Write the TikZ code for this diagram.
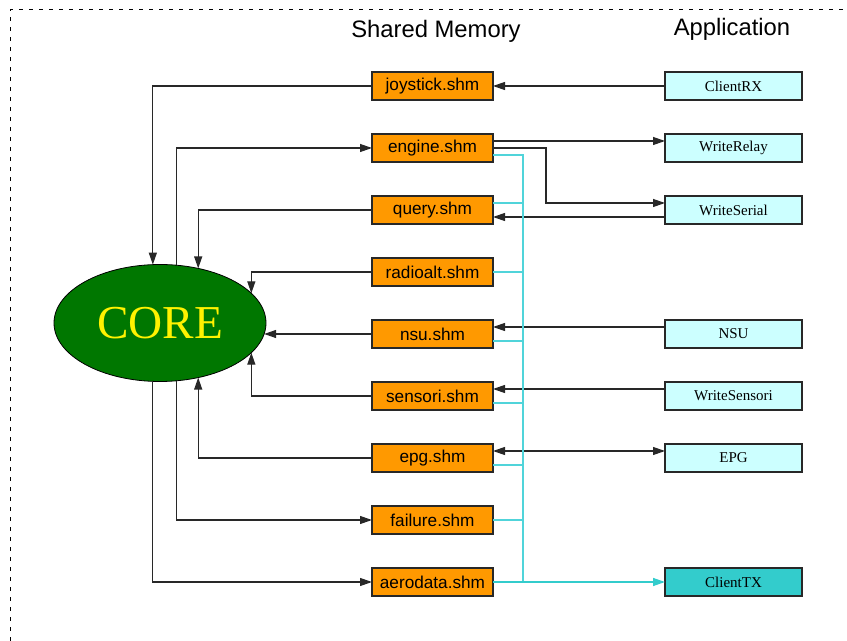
\documentclass[tikz,border=0pt]{standalone}
\usepackage{fontspec}
\setmainfont{Liberation Serif}
\setsansfont{Liberation Sans}
\usepackage{xcolor}
\usetikzlibrary{shapes.geometric,arrows.meta,positioning}

\definecolor{shmorange}{RGB}{255,153,0}
\definecolor{applight}{RGB}{204,255,255}
\definecolor{appdark}{RGB}{51,204,204}
\definecolor{coregreen}{RGB}{0,119,0}
\definecolor{buscyan}{RGB}{80,212,218}
\definecolor{linegray}{RGB}{40,40,40}

\begin{document}
\begin{tikzpicture}[x=0.5pt, y=-0.5pt, node distance=17pt and 86pt]
    \tikzstyle{shm} = [rectangle, draw=linegray, line width=0.7pt, fill=shmorange, minimum width=60.5pt, minimum height=14pt, inner sep=1pt, outer sep=0pt, font=\sffamily\fontsize{8.6}{10}\selectfont]
    \tikzstyle{app} = [rectangle, draw=linegray, line width=0.7pt, fill=applight, minimum width=68.5pt, minimum height=14pt, inner sep=1pt, outer sep=0pt, font=\rmfamily\fontsize{7.5}{9}\selectfont]
    \tikzstyle{core} = [ellipse, draw=black, line width=0.4pt, fill=coregreen, text=yellow, minimum width=106pt, minimum height=58.5pt, inner sep=0pt, outer sep=0pt, font=\rmfamily\fontsize{23.6}{26}\selectfont]
    \tikzstyle{header} = [font=\sffamily\fontsize{11.9}{14}\selectfont]
    \tikzstyle{arrow} = [draw=linegray, line width=0.6pt, -{Triangle[length=6pt,width=4pt]}]
    \tikzstyle{busline} = [draw=buscyan, line width=0.7pt]

    \useasboundingbox (0,0) rectangle (847,641);
    \draw[line width=0.5pt, dash pattern=on 2pt off 3pt] (10,641) -- (10,10) -- (847,10);

    \node [header] (shmhead) at (436,31) {Shared Memory};
    \node [header] (apphead) at (732,29) {Application};

    % shared memory column
    \node [shm] (joystick) at (432.5,86) {joystick.shm};
    \node [shm, below=of joystick] (engine) {engine.shm};
    \node [shm, below=of engine] (query) {query.shm};
    \node [shm, below=of query] (radioalt) {radioalt.shm};
    \node [shm, below=of radioalt] (nsu) {nsu.shm};
    \node [shm, below=of nsu] (sensori) {sensori.shm};
    \node [shm, below=of sensori] (epg) {epg.shm};
    \node [shm, below=of epg] (failure) {failure.shm};
    \node [shm, below=of failure] (aerodata) {aerodata.shm};

    % application column
    \node [app, right=of joystick] (clientrx) {ClientRX};
    \node [app, right=of engine] (writerelay) {WriteRelay};
    \node [app, right=of query] (writeserial) {WriteSerial};
    \node [app, right=of nsu] (nsuapp) {NSU};
    \node [app, right=of sensori] (writesensori) {WriteSensori};
    \node [app, right=of epg] (epgapp) {EPG};
    \node [app, fill=appdark, right=of aerodata] (clienttx) {ClientTX};

    \node [core] (core) at (160,323) {CORE};

    % core <-> shared memory
    \draw [arrow] (joystick.west) -| (core.97);
    \draw [arrow] (core.74.5) |- (engine.west);
    \draw [arrow] (query.west) -| (core.55.2);
    \draw [arrow] (radioalt.west) -| (core.18.25);
    \draw [arrow] (nsu.west) -- (nsu.west -| core.-6);
    \draw [arrow] (sensori.west) -| (core.-18.25);
    \draw [arrow] (epg.west) -| (core.-55.2);
    \draw [arrow] (core.-74.5) |- (failure.west);
    \draw [arrow] (core.-97) |- (aerodata.west);

    % applications <-> shared memory
    \draw [arrow] (clientrx.west) -- (joystick.east);
    \draw [arrow] ([yshift=3.5pt]engine.east) -- ([yshift=3.5pt]writerelay.west);
    \draw [arrow] (engine.east) -- ++(26.5pt,0) |- ([yshift=3.5pt]writeserial.west);
    \draw [arrow] ([yshift=-3.5pt]writeserial.west) -- ([yshift=-3.5pt]query.east);
    \draw [arrow] ([yshift=3.5pt]nsuapp.west) -- ([yshift=3.5pt]nsu.east);
    \draw [arrow] ([yshift=3.5pt]writesensori.west) -- ([yshift=3.5pt]sensori.east);
    \draw [arrow, {Triangle[length=6pt,width=4pt]}-{Triangle[length=6pt,width=4pt]}] ([yshift=3.5pt]epg.east) -- ([yshift=3.5pt]epgapp.west);

    % cyan bus to ClientTX
    \coordinate (bustop) at ([xshift=15pt,yshift=-3.5pt]engine.east);
    \draw [busline] ([yshift=-3.5pt]engine.east) -- (bustop) -- (bustop |- aerodata.east);
    \draw [busline] ([yshift=3.5pt]query.east) -- ([yshift=3.5pt]query.east -| bustop);
    \draw [busline] (radioalt.east) -- (radioalt.east -| bustop);
    \draw [busline] ([yshift=-3.5pt]nsu.east) -- ([yshift=-3.5pt]nsu.east -| bustop);
    \draw [busline] ([yshift=-3.5pt]sensori.east) -- ([yshift=-3.5pt]sensori.east -| bustop);
    \draw [busline] ([yshift=-3.5pt]epg.east) -- ([yshift=-3.5pt]epg.east -| bustop);
    \draw [busline] (failure.east) -- (failure.east -| bustop);
    \draw [busline, draw=appdark, -{Triangle[length=6pt,width=4pt]}] (aerodata.east) -- (clienttx.west);
\end{tikzpicture}
\end{document}
